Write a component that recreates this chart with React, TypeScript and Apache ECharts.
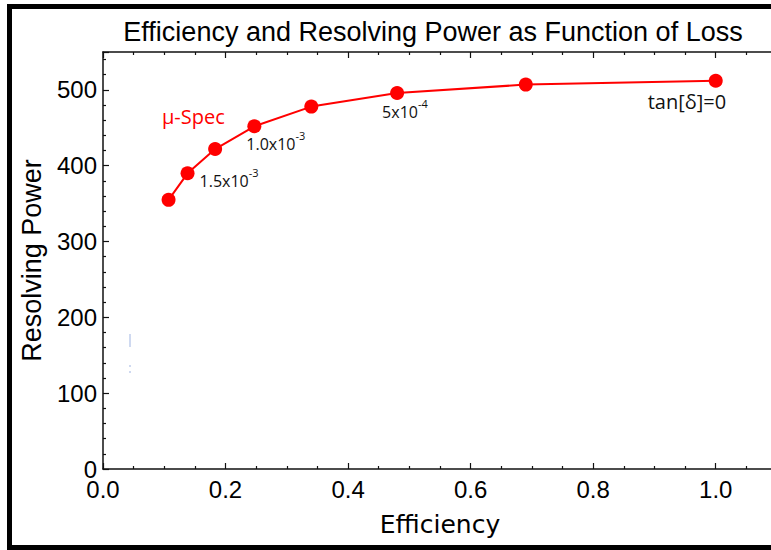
import React, { useEffect, useRef } from "react";
import * as echarts from "echarts";

const efficiency = [0.107, 0.138, 0.183, 0.247, 0.34, 0.48, 0.69, 1.0];
const resolvingPower = [355, 390, 422, 452, 478, 496, 507, 512];
const lossBase = ["", "1.5x10", "", "1.0x10", "", "5x10", "", "tan[δ]=0"];
const lossExp = ["", "-3", "", "-3", "", "-4", "", ""];
const xTickLabels = ["0.0", "0.2", "0.4", "0.6", "0.8", "1.0"];
const yTickLabels = ["0", "100", "200", "300", "400", "500"];

const titleText = "Efficiency and Resolving Power as Function of Loss";
const xName = "Efficiency";
const yName = "Resolving Power";
const seriesName = "μ-Spec";

export default function App() {
  const ref = useRef<HTMLDivElement>(null);
  useEffect(() => {
    if (!ref.current) return;
    const chart = echarts.init(ref.current, undefined, { renderer: "svg" });
    const labelOffsets: Record<number, [number, number]> = {
      1: [0, 5],
      3: [-20, 15],
      5: [-27, 16],
      7: [-80, 21],
    };
    const data = efficiency.map((x, i) => {
      const item: any = { value: [x, resolvingPower[i]] };
      if (lossBase[i]) {
        const big = !lossExp[i];
        item.label = {
          show: true,
          position: "right",
          offset: labelOffsets[i] || [0, 0],
          formatter: lossExp[i]
            ? `{b|${lossBase[i]}}{s|${lossExp[i]}}`
            : `{t|${lossBase[i]}}`,
        };
        if (big) item.label.offset = labelOffsets[i];
      }
      return item;
    });
    const axisCommon = {
      type: "value",
      axisLine: { show: true, onZero: false, lineStyle: { color: "#111", width: 1.5 } },
      axisTick: { show: true, inside: true, length: 6, lineStyle: { color: "#111", width: 1.2 } },
      minorTick: { show: true, length: 3, lineStyle: { color: "#111", width: 1.2 } },
      splitLine: { show: false },
    };
    const tickFont = {
      fontFamily: "Liberation Sans",
      fontSize: 24,
      color: "#000",
    };
    chart.setOption({
      animation: false,
      backgroundColor: "#fff",
      grid: { left: 103, top: 52, width: 674, height: 417, outerBoundsMode: "none", containLabel: false },
      xAxis: [
        {
          ...axisCommon,
          position: "bottom",
          min: 0,
          max: 1.1,
          interval: 0.2,
          minorTick: { ...axisCommon.minorTick, splitNumber: 4 },
          axisLabel: {
            ...tickFont,
            margin: 8,
            showMaxLabel: false,
            formatter: (v: number) => xTickLabels[Math.round(v / 0.2)] ?? "",
          },
          name: xName,
          nameLocation: "middle",
          nameGap: 43,
          nameTextStyle: { fontFamily: "DejaVu Sans", fontSize: 25, color: "#000" },
        },
        {
          ...axisCommon,
          position: "top",
          min: 0,
          max: 1.1,
          interval: 0.2,
          minorTick: { ...axisCommon.minorTick, splitNumber: 4 },
          axisLabel: { show: false },
        },
      ],
      yAxis: [
        {
          ...axisCommon,
          position: "left",
          min: 0,
          max: 550,
          interval: 100,
          minorTick: { ...axisCommon.minorTick, splitNumber: 5 },
          axisLabel: {
            ...tickFont,
            margin: 6,
            showMaxLabel: false,
            formatter: (v: number) => yTickLabels[Math.round(v / 100)] ?? "",
          },
          name: yName,
          nameLocation: "middle",
          nameGap: 58,
          nameTextStyle: { fontFamily: "Liberation Sans", fontSize: 27, color: "#000" },
        },
      ],
      graphic: [
        { type: "rect", shape: { x: 7, y: 4, width: 5, height: 546 }, style: { fill: "#000" } },
        { type: "rect", shape: { x: 7, y: 4, width: 800, height: 5 }, style: { fill: "#000" } },
        { type: "rect", shape: { x: 7, y: 545, width: 800, height: 5 }, style: { fill: "#000" } },
        {
          type: "text",
          x: 433,
          y: 32,
          style: {
            text: titleText,
            fontFamily: "Liberation Sans",
            fontSize: 27,
            fill: "#000",
            textAlign: "center",
            textVerticalAlign: "middle",
          },
        },
        {
          type: "text",
          x: 162,
          y: 116,
          style: {
            text: seriesName,
            fontFamily: "Open Sans",
            fontSize: 20,
            fill: "#ff0000",
            textAlign: "left",
            textVerticalAlign: "middle",
          },
        },
        { type: "line", shape: { x1: 130, y1: 334, x2: 130, y2: 347 }, style: { stroke: "#9fb4e2", lineWidth: 1 } },
        { type: "rect", shape: { x: 129.5, y: 365, width: 1, height: 2 }, style: { fill: "#9fb4e2" } },
        { type: "rect", shape: { x: 129.5, y: 371, width: 1, height: 2 }, style: { fill: "#9fb4e2" } },
      ],
      series: [
        {
          type: "line",
          name: seriesName,
          data,
          symbol: "circle",
          symbolSize: 14,
          lineStyle: { color: "#ff0000", width: 2 },
          itemStyle: { color: "#ff0000" },
          label: {
            show: false,
            distance: 5,
            rich: {
              b: { fontFamily: "Open Sans", fontSize: 16, color: "#111", verticalAlign: "bottom", lineHeight: 22 },
              s: { fontFamily: "Open Sans", fontSize: 11, color: "#111", verticalAlign: "top", lineHeight: 22 },
              t: { fontFamily: "Open Sans", fontSize: 20, color: "#111", lineHeight: 24 },
            },
          },
          emphasis: { disabled: true },
        },
      ],
    });
    return () => chart.dispose();
  }, []);
  return (
    <div
      style={{
        position: "fixed",
        left: 0,
        top: 0,
        width: 771,
        height: 550,
        overflow: "hidden",
        background: "#fff",
      }}
    >
      <div ref={ref} style={{ width: 800, height: 550 }} />
    </div>
  );
}
